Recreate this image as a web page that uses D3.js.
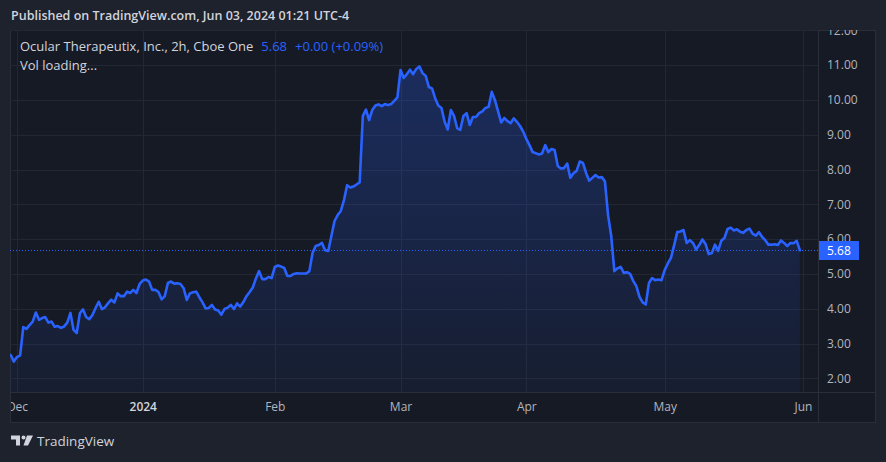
<!DOCTYPE html>
<html>
<head>
<meta charset="utf-8">
<script src="https://cdn.jsdelivr.net/npm/d3@7"></script>
<style>
  html, body { margin: 0; padding: 0; background: #1e222d; }
  svg { display: block; }
  text { font-family: "Open Sans", Roboto, "DejaVu Sans", sans-serif; }
</style>
</head>
<body>
<svg id="chart" width="886" height="462"></svg>
<script>
// ---- data (2h closes, one value per half trading day, Nov 30 2023 -> May 31 2024) ----
const prices = [
  2.67,2.48,2.61,2.66,3.47,3.42,3.53,3.63,3.89,3.68,
  3.73,3.76,3.60,3.63,3.48,3.50,3.45,3.49,3.60,3.88,
  3.39,3.30,3.87,3.98,3.76,3.70,3.82,4.02,4.20,3.99,
  4.04,4.16,4.26,4.18,4.44,4.36,4.36,4.49,4.45,4.54,
  4.45,4.71,4.81,4.84,4.78,4.54,4.54,4.48,4.27,4.36,
  4.74,4.78,4.72,4.73,4.71,4.59,4.25,4.44,4.47,4.49,
  4.33,4.18,4.01,4.02,4.11,3.98,3.95,3.83,3.99,4.03,
  4.11,3.99,4.15,4.06,4.19,4.36,4.48,4.61,4.87,5.08,
  4.85,4.85,4.91,4.88,5.20,5.24,5.21,5.17,4.94,4.94,
  5.00,5.02,5.01,5.01,5.01,5.08,5.60,5.80,5.83,5.89,
  5.68,5.66,6.09,6.52,6.69,6.81,7.12,7.55,7.48,7.51,
  7.57,7.63,9.54,9.72,9.42,9.71,9.84,9.87,9.82,9.88,
  9.85,9.88,9.97,10.07,10.86,10.63,10.74,10.87,10.74,10.89,
  10.96,10.77,10.69,10.37,10.33,10.05,9.84,9.77,9.38,9.15,
  9.71,9.54,9.19,9.14,9.54,9.62,9.28,9.51,9.51,9.62,
  9.67,9.77,9.80,10.23,10.00,9.68,9.35,9.48,9.39,9.33,
  9.47,9.37,9.25,9.09,8.88,8.70,8.50,8.47,8.43,8.46,
  8.70,8.50,8.59,8.56,8.10,8.03,8.04,8.17,7.76,7.89,
  7.96,8.23,8.19,7.90,7.68,7.76,7.84,7.77,7.78,7.66,
  6.69,6.09,5.08,5.16,5.20,5.03,5.05,5.00,4.80,4.65,
  4.34,4.18,4.12,4.74,4.88,4.82,4.84,4.82,5.11,5.30,
  5.46,5.82,6.20,6.22,6.26,5.89,5.97,5.89,5.70,5.83,
  5.99,5.86,5.57,5.60,5.84,5.66,5.95,6.03,6.29,6.33,
  6.25,6.28,6.21,6.18,6.26,6.30,6.15,6.10,6.20,6.06,
  5.97,5.84,5.84,5.85,5.83,5.96,5.89,5.80,5.89,5.88,
  5.95,5.68
];
const monthLabels = ["Dec", "2024", "Feb", "Mar", "Apr", "May", "Jun"];
const monthBarIndex = [2, 42, 84, 124, 164, 208, 252];
const priceTicks = [2, 3, 4, 5, 6, 7, 8, 9, 10, 11, 12];
const titleText = "Published on TradingView.com, Jun 03, 2024 01:21 UTC-4";
const symbolText = "Ocular Therapeutix, Inc., 2h, Cboe One";
const lastChange = "+0.00 (+0.09%)";

// ---- layout ----
const W = 886, H = 462;
const pane = { left: 10, top: 30, right: 818, bottom: 392 };
const axisRight = 875, axisBottom = 422;
const C = {
  page: "#1e222d", pane: "#161a25", grid: "#232734", border: "#2a2e39",
  text: "#b2b5be", bright: "#d1d4dc", blue: "#2962ff"
};

const svg = d3.select("#chart");
svg.append("rect").attr("width", W).attr("height", H).attr("fill", C.page);

// chart frame background (pane + axes)
svg.append("rect").attr("x", pane.left + 0.5).attr("y", pane.top + 0.5)
  .attr("width", axisRight - pane.left).attr("height", axisBottom - pane.top)
  .attr("fill", C.pane).attr("stroke", C.border).attr("stroke-width", 1);

const x = d3.scaleLinear().domain([0, 252]).range([10.7, 803.0]);
const y = d3.scaleLinear().domain([2, 12]).range([378.3, 30.3]);

const defs = svg.append("defs");
defs.append("clipPath").attr("id", "paneClip").append("rect")
  .attr("x", pane.left).attr("y", pane.top)
  .attr("width", pane.right - pane.left).attr("height", pane.bottom - pane.top);
defs.append("clipPath").attr("id", "priceClip").append("rect")
  .attr("x", pane.right).attr("y", pane.top)
  .attr("width", axisRight - pane.right).attr("height", pane.bottom - pane.top);
defs.append("clipPath").attr("id", "timeClip").append("rect")
  .attr("x", pane.left + 1).attr("y", pane.bottom)
  .attr("width", pane.right - pane.left).attr("height", axisBottom - pane.bottom);
const grad = defs.append("linearGradient").attr("id", "areaGrad")
  .attr("gradientUnits", "userSpaceOnUse")
  .attr("x1", 0).attr("x2", 0).attr("y1", y(d3.max(prices))).attr("y2", pane.bottom);
grad.append("stop").attr("offset", 0).attr("stop-color", C.blue).attr("stop-opacity", 0.26);
grad.append("stop").attr("offset", 1).attr("stop-color", C.blue).attr("stop-opacity", 0.05);

const g = svg.append("g").attr("clip-path", "url(#paneClip)");

// grid
g.selectAll(".hgrid").data(priceTicks).join("line")
  .attr("x1", pane.left).attr("x2", pane.right)
  .attr("y1", d => Math.round(y(d)) + 0.5).attr("y2", d => Math.round(y(d)) + 0.5)
  .attr("stroke", C.grid).attr("stroke-width", 1);
g.selectAll(".vgrid").data(monthBarIndex).join("line")
  .attr("x1", d => Math.round(x(d)) + 0.5).attr("x2", d => Math.round(x(d)) + 0.5)
  .attr("y1", pane.top).attr("y2", pane.bottom)
  .attr("stroke", C.grid).attr("stroke-width", 1);

// area + line
const area = d3.area().x((d, i) => x(i)).y0(pane.bottom).y1(d => y(d));
const line = d3.line().x((d, i) => x(i)).y(d => y(d));
g.append("path").datum(prices).attr("d", area).attr("fill", "url(#areaGrad)");
g.append("path").datum(prices).attr("d", line)
  .attr("fill", "none").attr("stroke", C.blue).attr("stroke-width", 2.6)
  .attr("stroke-linejoin", "round").attr("stroke-linecap", "round");

// last price dotted line
const last = prices[prices.length - 1];
g.append("line").attr("x1", pane.left).attr("x2", pane.right)
  .attr("y1", Math.round(y(last)) + 0.5).attr("y2", Math.round(y(last)) + 0.5)
  .attr("stroke", C.blue).attr("stroke-width", 1).attr("stroke-dasharray", "1,2");

// axes separators
svg.append("line").attr("x1", pane.right + 0.5).attr("x2", pane.right + 0.5)
  .attr("y1", pane.top).attr("y2", axisBottom).attr("stroke", C.border);
svg.append("line").attr("x1", pane.left).attr("x2", axisRight)
  .attr("y1", pane.bottom + 0.5).attr("y2", pane.bottom + 0.5).attr("stroke", C.border);

// price axis (clip applied on an untransformed wrapper)
const yAxisWrap = svg.append("g").attr("clip-path", "url(#priceClip)");
const yAxisG = yAxisWrap.append("g")
  .attr("transform", `translate(${pane.right},0)`)
  .call(d3.axisRight(y).tickValues(priceTicks).tickFormat(d3.format(".2f")).tickSize(0).tickPadding(9));
yAxisG.select(".domain").remove();
yAxisG.selectAll("text").attr("fill", C.text).attr("font-size", 12)
  .attr("font-family", "Roboto, sans-serif");

// last price label
svg.append("rect").attr("x", pane.right + 1).attr("y", Math.round(y(last)) - 9)
  .attr("width", 40).attr("height", 19).attr("fill", C.blue);
svg.append("text").attr("x", pane.right + 9).attr("y", Math.round(y(last)) + 5)
  .attr("fill", "#ffffff").attr("font-size", 12).attr("font-weight", 500)
  .attr("font-family", "Roboto, sans-serif")
  .text(last.toFixed(2));

// time axis
const xAxisWrap = svg.append("g").attr("clip-path", "url(#timeClip)");
const xAxisG = xAxisWrap.append("g")
  .attr("transform", `translate(0,${pane.bottom})`)
  .call(d3.axisBottom(x).tickValues(monthBarIndex)
    .tickFormat((d, i) => monthLabels[i]).tickSize(0).tickPadding(10));
xAxisG.select(".domain").remove();
xAxisG.selectAll("text")
  .attr("fill", (d, i) => monthLabels[i] === "2024" ? C.bright : C.text)
  .attr("font-weight", (d, i) => monthLabels[i] === "2024" ? 600 : 400)
  .attr("font-size", 12).attr("font-family", "Roboto, sans-serif");

// header
svg.append("text").attr("x", 11).attr("y", 20).attr("fill", C.bright)
  .attr("font-size", 12.5).attr("font-weight", 600).text(titleText);

// legend
const leg = svg.append("text").attr("x", 20).attr("y", 51).attr("font-size", 13);
leg.append("tspan").attr("fill", C.bright).text(symbolText);
leg.append("tspan").attr("fill", C.blue).attr("dx", 8).text(last.toFixed(2));
leg.append("tspan").attr("fill", C.blue).attr("dx", 8).text(lastChange);
svg.append("text").attr("x", 20).attr("y", 70).attr("font-size", 13)
  .attr("fill", C.bright).text("Vol loading...");

// TradingView logo
const logo = svg.append("g").attr("fill", C.bright);
logo.append("path").attr("d", "M11,435.5 h9 v10 h-4 v-6 h-5 z");
logo.append("circle").attr("cx", 23.5).attr("cy", 437.5).attr("r", 2);
logo.append("path").attr("d", "M27,435.5 h6 l-5,10 h-4.5 z");
svg.append("text").attr("x", 37).attr("y", 446).attr("font-size", 13.5)
  .attr("font-family", "Roboto, sans-serif")
  .attr("fill", C.bright).text("TradingView");
</script>
</body>
</html>
